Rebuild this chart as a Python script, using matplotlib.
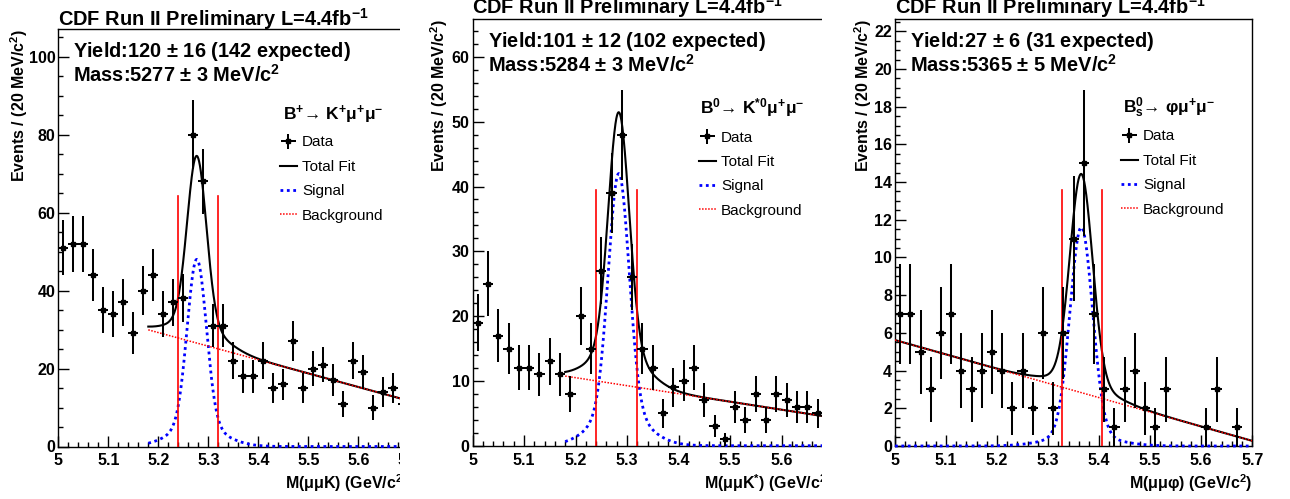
import numpy as np
import matplotlib
matplotlib.use("Agg")
import matplotlib.pyplot as plt
from matplotlib.patches import Rectangle
from matplotlib.ticker import MultipleLocator, FuncFormatter

plt.rcParams['font.family'] = ['Liberation Sans', 'DejaVu Sans']
plt.rcParams['font.weight'] = 'bold'
plt.rcParams['mathtext.fontset'] = 'custom'
plt.rcParams['mathtext.rm'] = 'Liberation Sans'
plt.rcParams['mathtext.bf'] = 'Liberation Sans:bold'
plt.rcParams['mathtext.it'] = 'Liberation Sans:italic'
plt.rcParams['mathtext.sf'] = 'Liberation Sans'
plt.rcParams['mathtext.default'] = 'bf'

# ---------------- data ----------------
bin_width = 0.02
bin_centers = np.round(np.arange(5.01, 5.70, bin_width), 2)

counts_bu = [51, 52, 52, 44, 35, 34, 37, 29, 40, 44, 34, 37, 38, 80, 68, 31, 31, 22,
             18, 18, 22, 15, 16, 27, 15, 20, 21, 17, 11, 22, 19, 10, 14, 15, 11]
counts_bd = [19, 25, 17, 15, 12, 12, 11, 13, 11, 8, 20, 15, 27, 39, 48, 26, 15, 12,
             5, 9, 10, 12, 7, 3, 1, 6, 4, 8, 4, 8, 7, 6, 6, 5, 5]
counts_bs = [7, 7, 5, 3, 6, 7, 4, 3, 4, 5, 4, 2, 4, 2, 6, 2, 6, 11, 15, 7, 3, 1, 3,
             4, 2, 1, 3, 0, 0, 0, 1, 3, 0, 1, 0]

# fit parameters
fit_low = [5.18, 5.18, 5.0]
sig_mean = [5.277, 5.284, 5.365]
sig_core_amp = [42.5, 36.5, 11.0]
sig_core_width = [0.019, 0.020, 0.022]
sig_tail_amp = [5.5, 5.5, 0.6]
sig_tail_width = [0.050, 0.050, 0.060]
bkg_at_5 = [36.2, 12.97, 5.62]
bkg_slope = [-34.9, -12.35, -7.64]
window_lo = [5.2392, 5.2392, 5.3263]
window_hi = [5.3192, 5.3192, 5.4063]

titles = ["CDF Run II Preliminary L=4.4fb$^{-1}$"] * 3
yield_text = [r"Yield:120 $\mathrm{\pm}$ 16 (142 expected)",
              r"Yield:101 $\mathrm{\pm}$ 12 (102 expected)",
              r"Yield:27 $\mathrm{\pm}$ 6 (31 expected)"]
mass_text = [r"Mass:5277 $\mathrm{\pm}$ 3 MeV/c$^{2}$",
             r"Mass:5284 $\mathrm{\pm}$ 3 MeV/c$^{2}$",
             r"Mass:5365 $\mathrm{\pm}$ 5 MeV/c$^{2}$"]
decay_text = [r"$\mathbf{B^{+}}$→ $\mathbf{K^{+}}\mathrm{\mu^{+}\mu^{-}}$",
              r"$\mathbf{B^{0}}$→ $\mathbf{K^{*0}}\mathrm{\mu^{+}\mu^{-}}$",
              r"$\mathbf{B^{0}_{s}}$→ $\mathrm{φ\mu^{+}\mu^{-}}$"]
xlabels = [r"M($\mathrm{\mu\mu}$K) (GeV/c$^{2}$)",
           r"M($\mathrm{\mu\mu}$K$^{*}$) (GeV/c$^{2}$)",
           r"M($\mathrm{\mu\mu}φ$) (GeV/c$^{2}$)"]
ylabel = "Events / (20 MeV/c$^{2}$)"
legend_labels = ["Data", "Total Fit", "Signal", "Background"]
ymax = [107, 65.85, 22.65]
ymajor = [20, 10, 2]
yminor = [5, 2, 0.5]

# ---------------- layout (pixels) ----------------
W, H = 1290, 499
fig = plt.figure(figsize=(W / 100, H / 100), dpi=100)
fig.patch.set_facecolor('white')

def fx(px):
    return px / W

def fy(py):
    return 1 - py / H

# left, top, bottom, px per GeV, visible right edge (None = full)
geo = [dict(left=58.3, top=29.3, bottom=446.5, ppg=500.0, cut=399.3,
            title_base=26.0, ylab_x=30.0, dec=(283, 119.5), leg=(280, 135.5)),
       dict(left=472.5, top=19.0, bottom=445.7, ppg=515.0, cut=821.7,
            title_base=13.5, ylab_x=450.5, dec=(700, 113.3), leg=(699, 130.5)),
       dict(left=895.0, top=19.0, bottom=446.0, ppg=510.4, cut=None,
            title_base=13.5, ylab_x=874.0, dec=(1123, 112.7), leg=(1121, 129.5))]

all_counts = [counts_bu, counts_bd, counts_bs]

for i, g in enumerate(geo):
    wpx = g['ppg'] * 0.7
    hpx = g['bottom'] - g['top']
    ax = fig.add_axes([fx(g['left']), fy(g['bottom']), wpx / W, hpx / H])
    ax.set_xlim(5.0, 5.7)
    ax.set_ylim(0, ymax[i])

    counts = np.array(all_counts[i], dtype=float)
    keep = counts > 0
    eb = ax.errorbar(bin_centers[keep], counts[keep], xerr=bin_width / 2,
                     yerr=np.sqrt(counts[keep]), fmt='s', color='black',
                     ms=3.5, elinewidth=1.45, capsize=0, zorder=4)

    xs = np.linspace(fit_low[i], 5.7, 1200)
    sig = (sig_core_amp[i] * np.exp(-0.5 * ((xs - sig_mean[i]) / sig_core_width[i]) ** 2)
           + sig_tail_amp[i] * np.exp(-0.5 * ((xs - sig_mean[i]) / sig_tail_width[i]) ** 2))
    bkg = bkg_at_5[i] + bkg_slope[i] * (xs - 5.0)
    l_tot, = ax.plot(xs, sig + bkg, color='black', lw=1.5, zorder=3)
    l_sig, = ax.plot(xs, sig, color='#0000ff', lw=2.0, ls=(0, (1, 1.3)), zorder=3,
                     clip_on=False)
    l_bkg, = ax.plot(xs, bkg, color='red', lw=1.1, ls=(0, (1, 1)), zorder=3)

    for xv in (window_lo[i], window_hi[i]):
        ax.axvline(xv, ymin=0, ymax=0.6, color='red', lw=1.2, zorder=3)

    # axes styling
    for s in ('left', 'bottom', 'top', 'right'):
        ax.spines[s].set_linewidth(1.0)
        ax.spines[s].set_color('black')
    ax.xaxis.set_major_locator(MultipleLocator(0.1))
    ax.xaxis.set_minor_locator(MultipleLocator(0.02))
    ax.xaxis.set_major_formatter(FuncFormatter(lambda v, p: f"{v:g}"))
    ax.yaxis.set_major_locator(MultipleLocator(ymajor[i]))
    ax.yaxis.set_minor_locator(MultipleLocator(yminor[i]))
    ax.tick_params(which='both', direction='in', top=False, right=False,
                   width=1.0, color='black', labelsize=11.5)
    ax.tick_params(which='major', length=8)
    ax.tick_params(which='minor', length=3.8)
    ax.tick_params(axis='x', pad=5)
    ax.tick_params(axis='y', pad=2)
    for lab in ax.get_xticklabels() + ax.get_yticklabels():
        lab.set_fontweight('bold')

    ax.set_xlabel(xlabels[i], fontsize=11.5, fontweight='bold', loc='right')
    ax.xaxis.set_label_coords(1.0, -(472 - g['bottom']) / hpx)
    ax.set_ylabel(ylabel, fontsize=11.5, fontweight='bold', loc='top')
    ax.yaxis.set_label_coords((g['ylab_x'] - g['left']) / wpx, 1.0)

    # legend
    ax.legend([eb, l_tot, l_sig, l_bkg], legend_labels,
              loc='upper left', bbox_to_anchor=(fx(g['leg'][0]), fy(g['leg'][1])),
              bbox_transform=fig.transFigure, frameon=False,
              prop={'size': 11, 'weight': 'normal'}, borderpad=0,
              borderaxespad=0, handlelength=1.1, handletextpad=0.35,
              labelspacing=0.68)

    # texts
    fig.text(fx(g['left']), fy(g['title_base']), titles[i], fontsize=14.4,
             fontweight='bold', ha='left', va='baseline')
    fig.text(fx(g['left'] + 15), fy(g['top'] + 27.7), yield_text[i], fontsize=14.4,
             fontweight='bold', ha='left', va='baseline')
    fig.text(fx(g['left'] + 15), fy(g['top'] + 52.7), mass_text[i], fontsize=14.4,
             fontweight='bold', ha='left', va='baseline')
    fig.text(fx(g['dec'][0]), fy(g['dec'][1]), decay_text[i], fontsize=12.5,
             fontweight='bold', ha='left', va='baseline')

    if g['cut'] is not None:
        fig.patches.append(Rectangle((fx(g['cut'] + 0.6), 0), fx(28), 1,
                                     transform=fig.transFigure, facecolor='white',
                                     edgecolor='none', zorder=20))

fig.savefig("out.png", dpi=100)
